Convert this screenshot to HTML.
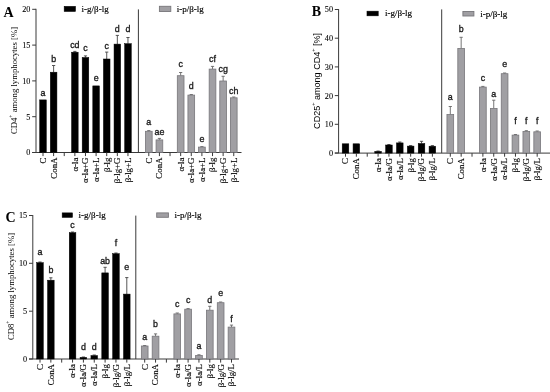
<!DOCTYPE html>
<html><head><meta charset="utf-8"><style>
html,body{margin:0;padding:0;background:#fff;}
body{width:550px;height:392px;overflow:hidden;}
svg{display:block;will-change:transform;}
</style></head><body>
<svg width="550" height="392" viewBox="0 0 550 392">
<rect width="550" height="392" fill="#fff"/>
<line x1="36.00" y1="8.80" x2="36.00" y2="152.50" stroke="#3a3a3a" stroke-width="1.0"/>
<line x1="32.20" y1="9.30" x2="36.00" y2="9.30" stroke="#3a3a3a" stroke-width="1.0"/>
<text x="30.40" y="12.20" font-family='"Liberation Serif", serif' font-size="8.2" text-anchor="end" font-weight="normal" fill="#000" stroke="#000" stroke-width="0.08">20</text>
<line x1="32.20" y1="45.10" x2="36.00" y2="45.10" stroke="#3a3a3a" stroke-width="1.0"/>
<text x="30.40" y="48.00" font-family='"Liberation Serif", serif' font-size="8.2" text-anchor="end" font-weight="normal" fill="#000" stroke="#000" stroke-width="0.08">15</text>
<line x1="32.20" y1="80.90" x2="36.00" y2="80.90" stroke="#3a3a3a" stroke-width="1.0"/>
<text x="30.40" y="83.80" font-family='"Liberation Serif", serif' font-size="8.2" text-anchor="end" font-weight="normal" fill="#000" stroke="#000" stroke-width="0.08">10</text>
<line x1="32.20" y1="116.70" x2="36.00" y2="116.70" stroke="#3a3a3a" stroke-width="1.0"/>
<text x="30.40" y="119.60" font-family='"Liberation Serif", serif' font-size="8.2" text-anchor="end" font-weight="normal" fill="#000" stroke="#000" stroke-width="0.08">5</text>
<line x1="32.20" y1="152.50" x2="36.00" y2="152.50" stroke="#3a3a3a" stroke-width="1.0"/>
<text x="30.40" y="155.40" font-family='"Liberation Serif", serif' font-size="8.2" text-anchor="end" font-weight="normal" fill="#000" stroke="#000" stroke-width="0.08">0</text>
<line x1="32.20" y1="152.50" x2="241.50" y2="152.50" stroke="#3a3a3a" stroke-width="1.0"/>
<line x1="138.40" y1="9.40" x2="138.40" y2="152.50" stroke="#3a3a3a" stroke-width="1.0"/>
<rect x="39.70" y="99.90" width="6.60" height="52.60" fill="#000" stroke="#000" stroke-width="0.5"/>
<text x="43.00" y="95.60" font-family='"Liberation Sans", sans-serif' font-size="8.9" text-anchor="middle" font-weight="normal" fill="#1a1a1a" stroke="#1a1a1a" stroke-width="0.32">a</text>
<line x1="53.62" y1="65.50" x2="53.62" y2="72.20" stroke="#444" stroke-width="0.9"/>
<line x1="52.02" y1="65.50" x2="55.22" y2="65.50" stroke="#444" stroke-width="0.9"/>
<rect x="50.32" y="72.20" width="6.60" height="80.30" fill="#000" stroke="#000" stroke-width="0.5"/>
<text x="53.62" y="62.30" font-family='"Liberation Sans", sans-serif' font-size="8.9" text-anchor="middle" font-weight="normal" fill="#1a1a1a" stroke="#1a1a1a" stroke-width="0.32">b</text>
<line x1="74.86" y1="51.40" x2="74.86" y2="52.20" stroke="#444" stroke-width="0.9"/>
<line x1="73.26" y1="51.40" x2="76.46" y2="51.40" stroke="#444" stroke-width="0.9"/>
<rect x="71.56" y="52.20" width="6.60" height="100.30" fill="#000" stroke="#000" stroke-width="0.5"/>
<text x="74.86" y="47.90" font-family='"Liberation Sans", sans-serif' font-size="8.9" text-anchor="middle" font-weight="normal" fill="#1a1a1a" stroke="#1a1a1a" stroke-width="0.32">cd</text>
<line x1="85.48" y1="55.90" x2="85.48" y2="57.50" stroke="#444" stroke-width="0.9"/>
<line x1="83.88" y1="55.90" x2="87.08" y2="55.90" stroke="#444" stroke-width="0.9"/>
<rect x="82.18" y="57.50" width="6.60" height="95.00" fill="#000" stroke="#000" stroke-width="0.5"/>
<text x="85.48" y="51.00" font-family='"Liberation Sans", sans-serif' font-size="8.9" text-anchor="middle" font-weight="normal" fill="#1a1a1a" stroke="#1a1a1a" stroke-width="0.32">c</text>
<rect x="92.80" y="85.90" width="6.60" height="66.60" fill="#000" stroke="#000" stroke-width="0.5"/>
<text x="96.10" y="80.60" font-family='"Liberation Sans", sans-serif' font-size="8.9" text-anchor="middle" font-weight="normal" fill="#1a1a1a" stroke="#1a1a1a" stroke-width="0.32">e</text>
<line x1="106.72" y1="52.10" x2="106.72" y2="59.00" stroke="#444" stroke-width="0.9"/>
<line x1="105.12" y1="52.10" x2="108.32" y2="52.10" stroke="#444" stroke-width="0.9"/>
<rect x="103.42" y="59.00" width="6.60" height="93.50" fill="#000" stroke="#000" stroke-width="0.5"/>
<text x="106.72" y="48.80" font-family='"Liberation Sans", sans-serif' font-size="8.9" text-anchor="middle" font-weight="normal" fill="#1a1a1a" stroke="#1a1a1a" stroke-width="0.32">c</text>
<line x1="117.34" y1="35.40" x2="117.34" y2="44.10" stroke="#444" stroke-width="0.9"/>
<line x1="115.74" y1="35.40" x2="118.94" y2="35.40" stroke="#444" stroke-width="0.9"/>
<rect x="114.04" y="44.10" width="6.60" height="108.40" fill="#000" stroke="#000" stroke-width="0.5"/>
<text x="117.34" y="32.20" font-family='"Liberation Sans", sans-serif' font-size="8.9" text-anchor="middle" font-weight="normal" fill="#1a1a1a" stroke="#1a1a1a" stroke-width="0.32">d</text>
<line x1="127.96" y1="37.50" x2="127.96" y2="43.70" stroke="#444" stroke-width="0.9"/>
<line x1="126.36" y1="37.50" x2="129.56" y2="37.50" stroke="#444" stroke-width="0.9"/>
<rect x="124.66" y="43.70" width="6.60" height="108.80" fill="#000" stroke="#000" stroke-width="0.5"/>
<text x="127.96" y="32.20" font-family='"Liberation Sans", sans-serif' font-size="8.9" text-anchor="middle" font-weight="normal" fill="#1a1a1a" stroke="#1a1a1a" stroke-width="0.32">d</text>
<line x1="148.80" y1="130.60" x2="148.80" y2="131.30" stroke="#666" stroke-width="0.9"/>
<line x1="147.20" y1="130.60" x2="150.40" y2="130.60" stroke="#666" stroke-width="0.9"/>
<rect x="145.45" y="131.30" width="6.70" height="21.20" fill="#a09fa3" stroke="#77767a" stroke-width="0.8"/>
<text x="148.80" y="124.60" font-family='"Liberation Sans", sans-serif' font-size="8.9" text-anchor="middle" font-weight="normal" fill="#1a1a1a" stroke="#1a1a1a" stroke-width="0.32">a</text>
<line x1="159.42" y1="138.40" x2="159.42" y2="139.90" stroke="#666" stroke-width="0.9"/>
<line x1="157.82" y1="138.40" x2="161.02" y2="138.40" stroke="#666" stroke-width="0.9"/>
<rect x="156.07" y="139.90" width="6.70" height="12.60" fill="#a09fa3" stroke="#77767a" stroke-width="0.8"/>
<text x="159.42" y="134.80" font-family='"Liberation Sans", sans-serif' font-size="8.9" text-anchor="middle" font-weight="normal" fill="#1a1a1a" stroke="#1a1a1a" stroke-width="0.32">ae</text>
<line x1="180.66" y1="72.50" x2="180.66" y2="75.70" stroke="#666" stroke-width="0.9"/>
<line x1="179.06" y1="72.50" x2="182.26" y2="72.50" stroke="#666" stroke-width="0.9"/>
<rect x="177.31" y="75.70" width="6.70" height="76.80" fill="#a09fa3" stroke="#77767a" stroke-width="0.8"/>
<text x="180.66" y="66.90" font-family='"Liberation Sans", sans-serif' font-size="8.9" text-anchor="middle" font-weight="normal" fill="#1a1a1a" stroke="#1a1a1a" stroke-width="0.32">c</text>
<line x1="191.28" y1="94.50" x2="191.28" y2="95.10" stroke="#666" stroke-width="0.9"/>
<line x1="189.68" y1="94.50" x2="192.88" y2="94.50" stroke="#666" stroke-width="0.9"/>
<rect x="187.93" y="95.10" width="6.70" height="57.40" fill="#a09fa3" stroke="#77767a" stroke-width="0.8"/>
<text x="191.28" y="89.40" font-family='"Liberation Sans", sans-serif' font-size="8.9" text-anchor="middle" font-weight="normal" fill="#1a1a1a" stroke="#1a1a1a" stroke-width="0.32">d</text>
<line x1="201.90" y1="146.60" x2="201.90" y2="147.10" stroke="#666" stroke-width="0.9"/>
<line x1="200.30" y1="146.60" x2="203.50" y2="146.60" stroke="#666" stroke-width="0.9"/>
<rect x="198.55" y="147.10" width="6.70" height="5.40" fill="#a09fa3" stroke="#77767a" stroke-width="0.8"/>
<text x="201.90" y="142.20" font-family='"Liberation Sans", sans-serif' font-size="8.9" text-anchor="middle" font-weight="normal" fill="#1a1a1a" stroke="#1a1a1a" stroke-width="0.32">e</text>
<line x1="212.52" y1="66.40" x2="212.52" y2="69.10" stroke="#666" stroke-width="0.9"/>
<line x1="210.92" y1="66.40" x2="214.12" y2="66.40" stroke="#666" stroke-width="0.9"/>
<rect x="209.17" y="69.10" width="6.70" height="83.40" fill="#a09fa3" stroke="#77767a" stroke-width="0.8"/>
<text x="212.52" y="61.50" font-family='"Liberation Sans", sans-serif' font-size="8.9" text-anchor="middle" font-weight="normal" fill="#1a1a1a" stroke="#1a1a1a" stroke-width="0.32">cf</text>
<line x1="223.14" y1="76.30" x2="223.14" y2="81.00" stroke="#666" stroke-width="0.9"/>
<line x1="221.54" y1="76.30" x2="224.74" y2="76.30" stroke="#666" stroke-width="0.9"/>
<rect x="219.79" y="81.00" width="6.70" height="71.50" fill="#a09fa3" stroke="#77767a" stroke-width="0.8"/>
<text x="223.14" y="71.70" font-family='"Liberation Sans", sans-serif' font-size="8.9" text-anchor="middle" font-weight="normal" fill="#1a1a1a" stroke="#1a1a1a" stroke-width="0.32">cg</text>
<line x1="233.76" y1="97.00" x2="233.76" y2="97.80" stroke="#666" stroke-width="0.9"/>
<line x1="232.16" y1="97.00" x2="235.36" y2="97.00" stroke="#666" stroke-width="0.9"/>
<rect x="230.41" y="97.80" width="6.70" height="54.70" fill="#a09fa3" stroke="#77767a" stroke-width="0.8"/>
<text x="233.76" y="93.50" font-family='"Liberation Sans", sans-serif' font-size="8.9" text-anchor="middle" font-weight="normal" fill="#1a1a1a" stroke="#1a1a1a" stroke-width="0.32">ch</text>
<line x1="43.00" y1="152.50" x2="43.00" y2="156.10" stroke="#3a3a3a" stroke-width="1.0"/>
<text x="45.90" y="157.50" font-family='"Liberation Serif", serif' font-size="8.9" text-anchor="end" font-weight="normal" fill="#000" transform="rotate(-90 45.90 157.50)" stroke="#000" stroke-width="0.14">C</text>
<line x1="53.62" y1="152.50" x2="53.62" y2="156.10" stroke="#3a3a3a" stroke-width="1.0"/>
<text x="56.52" y="157.50" font-family='"Liberation Serif", serif' font-size="8.9" text-anchor="end" font-weight="normal" fill="#000" transform="rotate(-90 56.52 157.50)" stroke="#000" stroke-width="0.14">ConA</text>
<line x1="64.24" y1="152.50" x2="64.24" y2="156.10" stroke="#3a3a3a" stroke-width="1.0"/>
<line x1="74.86" y1="152.50" x2="74.86" y2="156.10" stroke="#3a3a3a" stroke-width="1.0"/>
<text x="77.76" y="157.50" font-family='"Liberation Serif", serif' font-size="8.9" text-anchor="end" font-weight="normal" fill="#000" transform="rotate(-90 77.76 157.50)" stroke="#000" stroke-width="0.14">α-la</text>
<line x1="85.48" y1="152.50" x2="85.48" y2="156.10" stroke="#3a3a3a" stroke-width="1.0"/>
<text x="88.38" y="157.50" font-family='"Liberation Serif", serif' font-size="8.9" text-anchor="end" font-weight="normal" fill="#000" transform="rotate(-90 88.38 157.50)" stroke="#000" stroke-width="0.14">α-la+G</text>
<line x1="96.10" y1="152.50" x2="96.10" y2="156.10" stroke="#3a3a3a" stroke-width="1.0"/>
<text x="99.00" y="157.50" font-family='"Liberation Serif", serif' font-size="8.9" text-anchor="end" font-weight="normal" fill="#000" transform="rotate(-90 99.00 157.50)" stroke="#000" stroke-width="0.14">α-la+L</text>
<line x1="106.72" y1="152.50" x2="106.72" y2="156.10" stroke="#3a3a3a" stroke-width="1.0"/>
<text x="109.62" y="157.50" font-family='"Liberation Serif", serif' font-size="8.9" text-anchor="end" font-weight="normal" fill="#000" transform="rotate(-90 109.62 157.50)" stroke="#000" stroke-width="0.14">β-lg</text>
<line x1="117.34" y1="152.50" x2="117.34" y2="156.10" stroke="#3a3a3a" stroke-width="1.0"/>
<text x="120.24" y="157.50" font-family='"Liberation Serif", serif' font-size="8.9" text-anchor="end" font-weight="normal" fill="#000" transform="rotate(-90 120.24 157.50)" stroke="#000" stroke-width="0.14">β-lg+G</text>
<line x1="127.96" y1="152.50" x2="127.96" y2="156.10" stroke="#3a3a3a" stroke-width="1.0"/>
<text x="130.86" y="157.50" font-family='"Liberation Serif", serif' font-size="8.9" text-anchor="end" font-weight="normal" fill="#000" transform="rotate(-90 130.86 157.50)" stroke="#000" stroke-width="0.14">β-lg+L</text>
<line x1="148.80" y1="152.50" x2="148.80" y2="156.10" stroke="#3a3a3a" stroke-width="1.0"/>
<text x="151.70" y="157.50" font-family='"Liberation Serif", serif' font-size="8.9" text-anchor="end" font-weight="normal" fill="#000" transform="rotate(-90 151.70 157.50)" stroke="#000" stroke-width="0.14">C</text>
<line x1="159.42" y1="152.50" x2="159.42" y2="156.10" stroke="#3a3a3a" stroke-width="1.0"/>
<text x="162.32" y="157.50" font-family='"Liberation Serif", serif' font-size="8.9" text-anchor="end" font-weight="normal" fill="#000" transform="rotate(-90 162.32 157.50)" stroke="#000" stroke-width="0.14">ConA</text>
<line x1="170.04" y1="152.50" x2="170.04" y2="156.10" stroke="#3a3a3a" stroke-width="1.0"/>
<line x1="180.66" y1="152.50" x2="180.66" y2="156.10" stroke="#3a3a3a" stroke-width="1.0"/>
<text x="183.56" y="157.50" font-family='"Liberation Serif", serif' font-size="8.9" text-anchor="end" font-weight="normal" fill="#000" transform="rotate(-90 183.56 157.50)" stroke="#000" stroke-width="0.14">α-la</text>
<line x1="191.28" y1="152.50" x2="191.28" y2="156.10" stroke="#3a3a3a" stroke-width="1.0"/>
<text x="194.18" y="157.50" font-family='"Liberation Serif", serif' font-size="8.9" text-anchor="end" font-weight="normal" fill="#000" transform="rotate(-90 194.18 157.50)" stroke="#000" stroke-width="0.14">α-la+G</text>
<line x1="201.90" y1="152.50" x2="201.90" y2="156.10" stroke="#3a3a3a" stroke-width="1.0"/>
<text x="204.80" y="157.50" font-family='"Liberation Serif", serif' font-size="8.9" text-anchor="end" font-weight="normal" fill="#000" transform="rotate(-90 204.80 157.50)" stroke="#000" stroke-width="0.14">α-la+L</text>
<line x1="212.52" y1="152.50" x2="212.52" y2="156.10" stroke="#3a3a3a" stroke-width="1.0"/>
<text x="215.42" y="157.50" font-family='"Liberation Serif", serif' font-size="8.9" text-anchor="end" font-weight="normal" fill="#000" transform="rotate(-90 215.42 157.50)" stroke="#000" stroke-width="0.14">β-lg</text>
<line x1="223.14" y1="152.50" x2="223.14" y2="156.10" stroke="#3a3a3a" stroke-width="1.0"/>
<text x="226.04" y="157.50" font-family='"Liberation Serif", serif' font-size="8.9" text-anchor="end" font-weight="normal" fill="#000" transform="rotate(-90 226.04 157.50)" stroke="#000" stroke-width="0.14">β-lg+G</text>
<line x1="233.76" y1="152.50" x2="233.76" y2="156.10" stroke="#3a3a3a" stroke-width="1.0"/>
<text x="236.66" y="157.50" font-family='"Liberation Serif", serif' font-size="8.9" text-anchor="end" font-weight="normal" fill="#000" transform="rotate(-90 236.66 157.50)" stroke="#000" stroke-width="0.14">β-lg+L</text>
<rect x="64.2" y="6.4" width="11.2" height="5.0" fill="#000" stroke="#000" stroke-width="0.6"/>
<text x="81.60" y="11.80" font-family='"Liberation Serif", serif' font-size="9.0" text-anchor="start" font-weight="normal" fill="#000" stroke="#000" stroke-width="0.15">i-g/β-lg</text>
<rect x="159.4" y="6.3" width="11.4" height="5.2" fill="#a09fa3" stroke="#77767a" stroke-width="0.9"/>
<text x="176.80" y="11.80" font-family='"Liberation Serif", serif' font-size="9.0" text-anchor="start" font-weight="normal" fill="#000" stroke="#000" stroke-width="0.15">i-p/β-lg</text>
<text x="3.60" y="17.30" font-family='"Liberation Serif", serif' font-size="14" text-anchor="start" font-weight="bold" fill="#000">A</text>
<text x="17.00" y="80.50" font-family='"Liberation Serif", serif' font-size="8.7" text-anchor="middle" font-weight="normal" fill="#000" transform="rotate(-90 17.00 80.50)">CD4<tspan baseline-shift="4.3" font-size="5.5">+</tspan> among lymphocytes [%]</text>
<line x1="338.60" y1="9.00" x2="338.60" y2="153.10" stroke="#3a3a3a" stroke-width="1.0"/>
<line x1="334.80" y1="9.50" x2="338.60" y2="9.50" stroke="#3a3a3a" stroke-width="1.0"/>
<text x="333.00" y="12.40" font-family='"Liberation Serif", serif' font-size="8.2" text-anchor="end" font-weight="normal" fill="#000" stroke="#000" stroke-width="0.08">50</text>
<line x1="334.80" y1="38.20" x2="338.60" y2="38.20" stroke="#3a3a3a" stroke-width="1.0"/>
<text x="333.00" y="41.10" font-family='"Liberation Serif", serif' font-size="8.2" text-anchor="end" font-weight="normal" fill="#000" stroke="#000" stroke-width="0.08">40</text>
<line x1="334.80" y1="66.90" x2="338.60" y2="66.90" stroke="#3a3a3a" stroke-width="1.0"/>
<text x="333.00" y="69.80" font-family='"Liberation Serif", serif' font-size="8.2" text-anchor="end" font-weight="normal" fill="#000" stroke="#000" stroke-width="0.08">30</text>
<line x1="334.80" y1="95.60" x2="338.60" y2="95.60" stroke="#3a3a3a" stroke-width="1.0"/>
<text x="333.00" y="98.50" font-family='"Liberation Serif", serif' font-size="8.2" text-anchor="end" font-weight="normal" fill="#000" stroke="#000" stroke-width="0.08">20</text>
<line x1="334.80" y1="124.30" x2="338.60" y2="124.30" stroke="#3a3a3a" stroke-width="1.0"/>
<text x="333.00" y="127.20" font-family='"Liberation Serif", serif' font-size="8.2" text-anchor="end" font-weight="normal" fill="#000" stroke="#000" stroke-width="0.08">10</text>
<line x1="334.80" y1="153.00" x2="338.60" y2="153.00" stroke="#3a3a3a" stroke-width="1.0"/>
<text x="333.00" y="155.90" font-family='"Liberation Serif", serif' font-size="8.2" text-anchor="end" font-weight="normal" fill="#000" stroke="#000" stroke-width="0.08">0</text>
<line x1="334.80" y1="153.10" x2="550.00" y2="153.10" stroke="#3a3a3a" stroke-width="1.0"/>
<line x1="441.70" y1="9.40" x2="441.70" y2="153.10" stroke="#3a3a3a" stroke-width="1.0"/>
<rect x="342.20" y="143.80" width="6.60" height="9.30" fill="#000" stroke="#000" stroke-width="0.5"/>
<rect x="353.06" y="143.80" width="6.60" height="9.30" fill="#000" stroke="#000" stroke-width="0.5"/>
<line x1="378.08" y1="151.00" x2="378.08" y2="151.40" stroke="#444" stroke-width="0.9"/>
<line x1="376.48" y1="151.00" x2="379.68" y2="151.00" stroke="#444" stroke-width="0.9"/>
<rect x="374.78" y="151.40" width="6.60" height="1.70" fill="#000" stroke="#000" stroke-width="0.5"/>
<line x1="388.94" y1="144.50" x2="388.94" y2="145.00" stroke="#444" stroke-width="0.9"/>
<line x1="387.34" y1="144.50" x2="390.54" y2="144.50" stroke="#444" stroke-width="0.9"/>
<rect x="385.64" y="145.00" width="6.60" height="8.10" fill="#000" stroke="#000" stroke-width="0.5"/>
<line x1="399.80" y1="142.00" x2="399.80" y2="142.90" stroke="#444" stroke-width="0.9"/>
<line x1="398.20" y1="142.00" x2="401.40" y2="142.00" stroke="#444" stroke-width="0.9"/>
<rect x="396.50" y="142.90" width="6.60" height="10.20" fill="#000" stroke="#000" stroke-width="0.5"/>
<line x1="410.66" y1="145.60" x2="410.66" y2="146.10" stroke="#444" stroke-width="0.9"/>
<line x1="409.06" y1="145.60" x2="412.26" y2="145.60" stroke="#444" stroke-width="0.9"/>
<rect x="407.36" y="146.10" width="6.60" height="7.00" fill="#000" stroke="#000" stroke-width="0.5"/>
<line x1="421.52" y1="141.30" x2="421.52" y2="143.50" stroke="#444" stroke-width="0.9"/>
<line x1="419.92" y1="141.30" x2="423.12" y2="141.30" stroke="#444" stroke-width="0.9"/>
<rect x="418.22" y="143.50" width="6.60" height="9.60" fill="#000" stroke="#000" stroke-width="0.5"/>
<line x1="432.38" y1="145.60" x2="432.38" y2="146.20" stroke="#444" stroke-width="0.9"/>
<line x1="430.78" y1="145.60" x2="433.98" y2="145.60" stroke="#444" stroke-width="0.9"/>
<rect x="429.08" y="146.20" width="6.60" height="6.90" fill="#000" stroke="#000" stroke-width="0.5"/>
<line x1="450.30" y1="106.50" x2="450.30" y2="114.50" stroke="#666" stroke-width="0.9"/>
<line x1="448.70" y1="106.50" x2="451.90" y2="106.50" stroke="#666" stroke-width="0.9"/>
<rect x="446.95" y="114.50" width="6.70" height="38.60" fill="#a09fa3" stroke="#77767a" stroke-width="0.8"/>
<text x="450.30" y="99.50" font-family='"Liberation Sans", sans-serif' font-size="8.9" text-anchor="middle" font-weight="normal" fill="#1a1a1a" stroke="#1a1a1a" stroke-width="0.32">a</text>
<line x1="461.16" y1="37.30" x2="461.16" y2="48.40" stroke="#666" stroke-width="0.9"/>
<line x1="459.56" y1="37.30" x2="462.76" y2="37.30" stroke="#666" stroke-width="0.9"/>
<rect x="457.81" y="48.40" width="6.70" height="104.70" fill="#a09fa3" stroke="#77767a" stroke-width="0.8"/>
<text x="461.16" y="31.50" font-family='"Liberation Sans", sans-serif' font-size="8.9" text-anchor="middle" font-weight="normal" fill="#1a1a1a" stroke="#1a1a1a" stroke-width="0.32">b</text>
<line x1="482.88" y1="86.40" x2="482.88" y2="87.10" stroke="#666" stroke-width="0.9"/>
<line x1="481.28" y1="86.40" x2="484.48" y2="86.40" stroke="#666" stroke-width="0.9"/>
<rect x="479.53" y="87.10" width="6.70" height="66.00" fill="#a09fa3" stroke="#77767a" stroke-width="0.8"/>
<text x="482.88" y="80.80" font-family='"Liberation Sans", sans-serif' font-size="8.9" text-anchor="middle" font-weight="normal" fill="#1a1a1a" stroke="#1a1a1a" stroke-width="0.32">c</text>
<line x1="493.74" y1="100.20" x2="493.74" y2="108.40" stroke="#666" stroke-width="0.9"/>
<line x1="492.14" y1="100.20" x2="495.34" y2="100.20" stroke="#666" stroke-width="0.9"/>
<rect x="490.39" y="108.40" width="6.70" height="44.70" fill="#a09fa3" stroke="#77767a" stroke-width="0.8"/>
<text x="493.74" y="96.50" font-family='"Liberation Sans", sans-serif' font-size="8.9" text-anchor="middle" font-weight="normal" fill="#1a1a1a" stroke="#1a1a1a" stroke-width="0.32">a</text>
<line x1="504.60" y1="73.00" x2="504.60" y2="73.70" stroke="#666" stroke-width="0.9"/>
<line x1="503.00" y1="73.00" x2="506.20" y2="73.00" stroke="#666" stroke-width="0.9"/>
<rect x="501.25" y="73.70" width="6.70" height="79.40" fill="#a09fa3" stroke="#77767a" stroke-width="0.8"/>
<text x="504.60" y="66.90" font-family='"Liberation Sans", sans-serif' font-size="8.9" text-anchor="middle" font-weight="normal" fill="#1a1a1a" stroke="#1a1a1a" stroke-width="0.32">e</text>
<line x1="515.46" y1="134.50" x2="515.46" y2="135.10" stroke="#666" stroke-width="0.9"/>
<line x1="513.86" y1="134.50" x2="517.06" y2="134.50" stroke="#666" stroke-width="0.9"/>
<rect x="512.11" y="135.10" width="6.70" height="18.00" fill="#a09fa3" stroke="#77767a" stroke-width="0.8"/>
<text x="515.46" y="123.90" font-family='"Liberation Sans", sans-serif' font-size="8.9" text-anchor="middle" font-weight="normal" fill="#1a1a1a" stroke="#1a1a1a" stroke-width="0.32">f</text>
<line x1="526.32" y1="130.70" x2="526.32" y2="131.40" stroke="#666" stroke-width="0.9"/>
<line x1="524.72" y1="130.70" x2="527.92" y2="130.70" stroke="#666" stroke-width="0.9"/>
<rect x="522.97" y="131.40" width="6.70" height="21.70" fill="#a09fa3" stroke="#77767a" stroke-width="0.8"/>
<text x="526.32" y="123.90" font-family='"Liberation Sans", sans-serif' font-size="8.9" text-anchor="middle" font-weight="normal" fill="#1a1a1a" stroke="#1a1a1a" stroke-width="0.32">f</text>
<line x1="537.18" y1="131.00" x2="537.18" y2="131.80" stroke="#666" stroke-width="0.9"/>
<line x1="535.58" y1="131.00" x2="538.78" y2="131.00" stroke="#666" stroke-width="0.9"/>
<rect x="533.83" y="131.80" width="6.70" height="21.30" fill="#a09fa3" stroke="#77767a" stroke-width="0.8"/>
<text x="537.18" y="123.90" font-family='"Liberation Sans", sans-serif' font-size="8.9" text-anchor="middle" font-weight="normal" fill="#1a1a1a" stroke="#1a1a1a" stroke-width="0.32">f</text>
<line x1="345.50" y1="153.10" x2="345.50" y2="156.70" stroke="#3a3a3a" stroke-width="1.0"/>
<text x="348.40" y="158.10" font-family='"Liberation Serif", serif' font-size="8.9" text-anchor="end" font-weight="normal" fill="#000" transform="rotate(-90 348.40 158.10)" stroke="#000" stroke-width="0.14">C</text>
<line x1="356.36" y1="153.10" x2="356.36" y2="156.70" stroke="#3a3a3a" stroke-width="1.0"/>
<text x="359.26" y="158.10" font-family='"Liberation Serif", serif' font-size="8.9" text-anchor="end" font-weight="normal" fill="#000" transform="rotate(-90 359.26 158.10)" stroke="#000" stroke-width="0.14">ConA</text>
<line x1="367.22" y1="153.10" x2="367.22" y2="156.70" stroke="#3a3a3a" stroke-width="1.0"/>
<line x1="378.08" y1="153.10" x2="378.08" y2="156.70" stroke="#3a3a3a" stroke-width="1.0"/>
<text x="380.98" y="158.10" font-family='"Liberation Serif", serif' font-size="8.9" text-anchor="end" font-weight="normal" fill="#000" transform="rotate(-90 380.98 158.10)" stroke="#000" stroke-width="0.14">α-la</text>
<line x1="388.94" y1="153.10" x2="388.94" y2="156.70" stroke="#3a3a3a" stroke-width="1.0"/>
<text x="391.84" y="158.10" font-family='"Liberation Serif", serif' font-size="8.9" text-anchor="end" font-weight="normal" fill="#000" transform="rotate(-90 391.84 158.10)" stroke="#000" stroke-width="0.14">α-la/G</text>
<line x1="399.80" y1="153.10" x2="399.80" y2="156.70" stroke="#3a3a3a" stroke-width="1.0"/>
<text x="402.70" y="158.10" font-family='"Liberation Serif", serif' font-size="8.9" text-anchor="end" font-weight="normal" fill="#000" transform="rotate(-90 402.70 158.10)" stroke="#000" stroke-width="0.14">α-la/L</text>
<line x1="410.66" y1="153.10" x2="410.66" y2="156.70" stroke="#3a3a3a" stroke-width="1.0"/>
<text x="413.56" y="158.10" font-family='"Liberation Serif", serif' font-size="8.9" text-anchor="end" font-weight="normal" fill="#000" transform="rotate(-90 413.56 158.10)" stroke="#000" stroke-width="0.14">β-lg</text>
<line x1="421.52" y1="153.10" x2="421.52" y2="156.70" stroke="#3a3a3a" stroke-width="1.0"/>
<text x="424.42" y="158.10" font-family='"Liberation Serif", serif' font-size="8.9" text-anchor="end" font-weight="normal" fill="#000" transform="rotate(-90 424.42 158.10)" stroke="#000" stroke-width="0.14">β-lg/G</text>
<line x1="432.38" y1="153.10" x2="432.38" y2="156.70" stroke="#3a3a3a" stroke-width="1.0"/>
<text x="435.28" y="158.10" font-family='"Liberation Serif", serif' font-size="8.9" text-anchor="end" font-weight="normal" fill="#000" transform="rotate(-90 435.28 158.10)" stroke="#000" stroke-width="0.14">β-lg/L</text>
<line x1="450.30" y1="153.10" x2="450.30" y2="156.70" stroke="#3a3a3a" stroke-width="1.0"/>
<text x="453.20" y="158.10" font-family='"Liberation Serif", serif' font-size="8.9" text-anchor="end" font-weight="normal" fill="#000" transform="rotate(-90 453.20 158.10)" stroke="#000" stroke-width="0.14">C</text>
<line x1="461.16" y1="153.10" x2="461.16" y2="156.70" stroke="#3a3a3a" stroke-width="1.0"/>
<text x="464.06" y="158.10" font-family='"Liberation Serif", serif' font-size="8.9" text-anchor="end" font-weight="normal" fill="#000" transform="rotate(-90 464.06 158.10)" stroke="#000" stroke-width="0.14">ConA</text>
<line x1="472.02" y1="153.10" x2="472.02" y2="156.70" stroke="#3a3a3a" stroke-width="1.0"/>
<line x1="482.88" y1="153.10" x2="482.88" y2="156.70" stroke="#3a3a3a" stroke-width="1.0"/>
<text x="485.78" y="158.10" font-family='"Liberation Serif", serif' font-size="8.9" text-anchor="end" font-weight="normal" fill="#000" transform="rotate(-90 485.78 158.10)" stroke="#000" stroke-width="0.14">α-la</text>
<line x1="493.74" y1="153.10" x2="493.74" y2="156.70" stroke="#3a3a3a" stroke-width="1.0"/>
<text x="496.64" y="158.10" font-family='"Liberation Serif", serif' font-size="8.9" text-anchor="end" font-weight="normal" fill="#000" transform="rotate(-90 496.64 158.10)" stroke="#000" stroke-width="0.14">α-la/G</text>
<line x1="504.60" y1="153.10" x2="504.60" y2="156.70" stroke="#3a3a3a" stroke-width="1.0"/>
<text x="507.50" y="158.10" font-family='"Liberation Serif", serif' font-size="8.9" text-anchor="end" font-weight="normal" fill="#000" transform="rotate(-90 507.50 158.10)" stroke="#000" stroke-width="0.14">α-la/L</text>
<line x1="515.46" y1="153.10" x2="515.46" y2="156.70" stroke="#3a3a3a" stroke-width="1.0"/>
<text x="518.36" y="158.10" font-family='"Liberation Serif", serif' font-size="8.9" text-anchor="end" font-weight="normal" fill="#000" transform="rotate(-90 518.36 158.10)" stroke="#000" stroke-width="0.14">β-lg</text>
<line x1="526.32" y1="153.10" x2="526.32" y2="156.70" stroke="#3a3a3a" stroke-width="1.0"/>
<text x="529.22" y="158.10" font-family='"Liberation Serif", serif' font-size="8.9" text-anchor="end" font-weight="normal" fill="#000" transform="rotate(-90 529.22 158.10)" stroke="#000" stroke-width="0.14">β-lg/G</text>
<line x1="537.18" y1="153.10" x2="537.18" y2="156.70" stroke="#3a3a3a" stroke-width="1.0"/>
<text x="540.08" y="158.10" font-family='"Liberation Serif", serif' font-size="8.9" text-anchor="end" font-weight="normal" fill="#000" transform="rotate(-90 540.08 158.10)" stroke="#000" stroke-width="0.14">β-lg/L</text>
<rect x="367.0" y="11.2" width="11.2" height="4.6" fill="#000" stroke="#000" stroke-width="0.6"/>
<text x="385.00" y="16.40" font-family='"Liberation Serif", serif' font-size="9.0" text-anchor="start" font-weight="normal" fill="#000" stroke="#000" stroke-width="0.15">i-g/β-lg</text>
<rect x="462.9" y="11.5" width="11.0" height="4.5" fill="#a09fa3" stroke="#77767a" stroke-width="0.9"/>
<text x="480.20" y="16.65" font-family='"Liberation Serif", serif' font-size="9.0" text-anchor="start" font-weight="normal" fill="#000" stroke="#000" stroke-width="0.15">i-p/β-lg</text>
<text x="311.80" y="16.40" font-family='"Liberation Serif", serif' font-size="14" text-anchor="start" font-weight="bold" fill="#000">B</text>
<text x="320.50" y="80.90" font-family='"Liberation Sans", sans-serif' font-size="9.05" text-anchor="middle" font-weight="normal" fill="#000" transform="rotate(-90 320.50 80.90)">CD25<tspan baseline-shift="5.2" font-size="5.5">+</tspan> among CD4<tspan baseline-shift="5.2" font-size="5.5">+</tspan> [%]</text>
<line x1="32.80" y1="215.00" x2="32.80" y2="359.00" stroke="#3a3a3a" stroke-width="1.0"/>
<line x1="29.00" y1="215.50" x2="32.80" y2="215.50" stroke="#3a3a3a" stroke-width="1.0"/>
<text x="27.20" y="218.40" font-family='"Liberation Serif", serif' font-size="8.2" text-anchor="end" font-weight="normal" fill="#000" stroke="#000" stroke-width="0.08">15</text>
<line x1="29.00" y1="263.30" x2="32.80" y2="263.30" stroke="#3a3a3a" stroke-width="1.0"/>
<text x="27.20" y="266.20" font-family='"Liberation Serif", serif' font-size="8.2" text-anchor="end" font-weight="normal" fill="#000" stroke="#000" stroke-width="0.08">10</text>
<line x1="29.00" y1="311.20" x2="32.80" y2="311.20" stroke="#3a3a3a" stroke-width="1.0"/>
<text x="27.20" y="314.10" font-family='"Liberation Serif", serif' font-size="8.2" text-anchor="end" font-weight="normal" fill="#000" stroke="#000" stroke-width="0.08">5</text>
<line x1="29.00" y1="359.00" x2="32.80" y2="359.00" stroke="#3a3a3a" stroke-width="1.0"/>
<text x="27.20" y="361.90" font-family='"Liberation Serif", serif' font-size="8.2" text-anchor="end" font-weight="normal" fill="#000" stroke="#000" stroke-width="0.08">0</text>
<line x1="29.00" y1="359.00" x2="239.00" y2="359.00" stroke="#3a3a3a" stroke-width="1.0"/>
<line x1="135.80" y1="215.60" x2="135.80" y2="359.00" stroke="#3a3a3a" stroke-width="1.0"/>
<line x1="40.00" y1="262.00" x2="40.00" y2="262.70" stroke="#444" stroke-width="0.9"/>
<line x1="38.40" y1="262.00" x2="41.60" y2="262.00" stroke="#444" stroke-width="0.9"/>
<rect x="36.70" y="262.70" width="6.60" height="96.30" fill="#000" stroke="#000" stroke-width="0.5"/>
<text x="40.00" y="255.10" font-family='"Liberation Sans", sans-serif' font-size="8.9" text-anchor="middle" font-weight="normal" fill="#1a1a1a" stroke="#1a1a1a" stroke-width="0.32">a</text>
<line x1="50.85" y1="277.80" x2="50.85" y2="280.20" stroke="#444" stroke-width="0.9"/>
<line x1="49.25" y1="277.80" x2="52.45" y2="277.80" stroke="#444" stroke-width="0.9"/>
<rect x="47.55" y="280.20" width="6.60" height="78.80" fill="#000" stroke="#000" stroke-width="0.5"/>
<text x="50.85" y="272.70" font-family='"Liberation Sans", sans-serif' font-size="8.9" text-anchor="middle" font-weight="normal" fill="#1a1a1a" stroke="#1a1a1a" stroke-width="0.32">b</text>
<line x1="72.55" y1="232.00" x2="72.55" y2="232.70" stroke="#444" stroke-width="0.9"/>
<line x1="70.95" y1="232.00" x2="74.15" y2="232.00" stroke="#444" stroke-width="0.9"/>
<rect x="69.25" y="232.70" width="6.60" height="126.30" fill="#000" stroke="#000" stroke-width="0.5"/>
<text x="72.55" y="227.90" font-family='"Liberation Sans", sans-serif' font-size="8.9" text-anchor="middle" font-weight="normal" fill="#1a1a1a" stroke="#1a1a1a" stroke-width="0.32">c</text>
<line x1="83.40" y1="357.00" x2="83.40" y2="357.40" stroke="#444" stroke-width="0.9"/>
<line x1="81.80" y1="357.00" x2="85.00" y2="357.00" stroke="#444" stroke-width="0.9"/>
<rect x="80.10" y="357.40" width="6.60" height="1.60" fill="#000" stroke="#000" stroke-width="0.5"/>
<text x="83.40" y="350.30" font-family='"Liberation Sans", sans-serif' font-size="8.9" text-anchor="middle" font-weight="normal" fill="#1a1a1a" stroke="#1a1a1a" stroke-width="0.32">d</text>
<line x1="94.25" y1="355.00" x2="94.25" y2="355.60" stroke="#444" stroke-width="0.9"/>
<line x1="92.65" y1="355.00" x2="95.85" y2="355.00" stroke="#444" stroke-width="0.9"/>
<rect x="90.95" y="355.60" width="6.60" height="3.40" fill="#000" stroke="#000" stroke-width="0.5"/>
<text x="94.25" y="350.30" font-family='"Liberation Sans", sans-serif' font-size="8.9" text-anchor="middle" font-weight="normal" fill="#1a1a1a" stroke="#1a1a1a" stroke-width="0.32">d</text>
<line x1="105.10" y1="267.30" x2="105.10" y2="272.90" stroke="#444" stroke-width="0.9"/>
<line x1="103.50" y1="267.30" x2="106.70" y2="267.30" stroke="#444" stroke-width="0.9"/>
<rect x="101.80" y="272.90" width="6.60" height="86.10" fill="#000" stroke="#000" stroke-width="0.5"/>
<text x="105.10" y="263.50" font-family='"Liberation Sans", sans-serif' font-size="8.9" text-anchor="middle" font-weight="normal" fill="#1a1a1a" stroke="#1a1a1a" stroke-width="0.32">ab</text>
<line x1="115.95" y1="253.00" x2="115.95" y2="253.70" stroke="#444" stroke-width="0.9"/>
<line x1="114.35" y1="253.00" x2="117.55" y2="253.00" stroke="#444" stroke-width="0.9"/>
<rect x="112.65" y="253.70" width="6.60" height="105.30" fill="#000" stroke="#000" stroke-width="0.5"/>
<text x="115.95" y="245.50" font-family='"Liberation Sans", sans-serif' font-size="8.9" text-anchor="middle" font-weight="normal" fill="#1a1a1a" stroke="#1a1a1a" stroke-width="0.32">f</text>
<line x1="126.80" y1="277.60" x2="126.80" y2="294.10" stroke="#444" stroke-width="0.9"/>
<line x1="125.20" y1="277.60" x2="128.40" y2="277.60" stroke="#444" stroke-width="0.9"/>
<rect x="123.50" y="294.10" width="6.60" height="64.90" fill="#000" stroke="#000" stroke-width="0.5"/>
<text x="126.80" y="270.30" font-family='"Liberation Sans", sans-serif' font-size="8.9" text-anchor="middle" font-weight="normal" fill="#1a1a1a" stroke="#1a1a1a" stroke-width="0.32">e</text>
<line x1="144.70" y1="345.50" x2="144.70" y2="346.00" stroke="#666" stroke-width="0.9"/>
<line x1="143.10" y1="345.50" x2="146.30" y2="345.50" stroke="#666" stroke-width="0.9"/>
<rect x="141.35" y="346.00" width="6.70" height="13.00" fill="#a09fa3" stroke="#77767a" stroke-width="0.8"/>
<text x="144.70" y="339.70" font-family='"Liberation Sans", sans-serif' font-size="8.9" text-anchor="middle" font-weight="normal" fill="#1a1a1a" stroke="#1a1a1a" stroke-width="0.32">a</text>
<line x1="155.55" y1="333.90" x2="155.55" y2="336.20" stroke="#666" stroke-width="0.9"/>
<line x1="153.95" y1="333.90" x2="157.15" y2="333.90" stroke="#666" stroke-width="0.9"/>
<rect x="152.20" y="336.20" width="6.70" height="22.80" fill="#a09fa3" stroke="#77767a" stroke-width="0.8"/>
<text x="155.55" y="327.40" font-family='"Liberation Sans", sans-serif' font-size="8.9" text-anchor="middle" font-weight="normal" fill="#1a1a1a" stroke="#1a1a1a" stroke-width="0.32">b</text>
<line x1="177.25" y1="313.00" x2="177.25" y2="313.90" stroke="#666" stroke-width="0.9"/>
<line x1="175.65" y1="313.00" x2="178.85" y2="313.00" stroke="#666" stroke-width="0.9"/>
<rect x="173.90" y="313.90" width="6.70" height="45.10" fill="#a09fa3" stroke="#77767a" stroke-width="0.8"/>
<text x="177.25" y="306.70" font-family='"Liberation Sans", sans-serif' font-size="8.9" text-anchor="middle" font-weight="normal" fill="#1a1a1a" stroke="#1a1a1a" stroke-width="0.32">c</text>
<line x1="188.10" y1="308.60" x2="188.10" y2="309.20" stroke="#666" stroke-width="0.9"/>
<line x1="186.50" y1="308.60" x2="189.70" y2="308.60" stroke="#666" stroke-width="0.9"/>
<rect x="184.75" y="309.20" width="6.70" height="49.80" fill="#a09fa3" stroke="#77767a" stroke-width="0.8"/>
<text x="188.10" y="302.60" font-family='"Liberation Sans", sans-serif' font-size="8.9" text-anchor="middle" font-weight="normal" fill="#1a1a1a" stroke="#1a1a1a" stroke-width="0.32">c</text>
<line x1="198.95" y1="354.80" x2="198.95" y2="355.40" stroke="#666" stroke-width="0.9"/>
<line x1="197.35" y1="354.80" x2="200.55" y2="354.80" stroke="#666" stroke-width="0.9"/>
<rect x="195.60" y="355.40" width="6.70" height="3.60" fill="#a09fa3" stroke="#77767a" stroke-width="0.8"/>
<text x="198.95" y="349.40" font-family='"Liberation Sans", sans-serif' font-size="8.9" text-anchor="middle" font-weight="normal" fill="#1a1a1a" stroke="#1a1a1a" stroke-width="0.32">a</text>
<line x1="209.80" y1="306.30" x2="209.80" y2="310.20" stroke="#666" stroke-width="0.9"/>
<line x1="208.20" y1="306.30" x2="211.40" y2="306.30" stroke="#666" stroke-width="0.9"/>
<rect x="206.45" y="310.20" width="6.70" height="48.80" fill="#a09fa3" stroke="#77767a" stroke-width="0.8"/>
<text x="209.80" y="302.90" font-family='"Liberation Sans", sans-serif' font-size="8.9" text-anchor="middle" font-weight="normal" fill="#1a1a1a" stroke="#1a1a1a" stroke-width="0.32">d</text>
<line x1="220.65" y1="302.00" x2="220.65" y2="302.70" stroke="#666" stroke-width="0.9"/>
<line x1="219.05" y1="302.00" x2="222.25" y2="302.00" stroke="#666" stroke-width="0.9"/>
<rect x="217.30" y="302.70" width="6.70" height="56.30" fill="#a09fa3" stroke="#77767a" stroke-width="0.8"/>
<text x="220.65" y="295.50" font-family='"Liberation Sans", sans-serif' font-size="8.9" text-anchor="middle" font-weight="normal" fill="#1a1a1a" stroke="#1a1a1a" stroke-width="0.32">e</text>
<line x1="231.50" y1="325.10" x2="231.50" y2="327.10" stroke="#666" stroke-width="0.9"/>
<line x1="229.90" y1="325.10" x2="233.10" y2="325.10" stroke="#666" stroke-width="0.9"/>
<rect x="228.15" y="327.10" width="6.70" height="31.90" fill="#a09fa3" stroke="#77767a" stroke-width="0.8"/>
<text x="231.50" y="321.90" font-family='"Liberation Sans", sans-serif' font-size="8.9" text-anchor="middle" font-weight="normal" fill="#1a1a1a" stroke="#1a1a1a" stroke-width="0.32">f</text>
<line x1="40.00" y1="359.00" x2="40.00" y2="362.60" stroke="#3a3a3a" stroke-width="1.0"/>
<text x="42.90" y="364.00" font-family='"Liberation Serif", serif' font-size="8.9" text-anchor="end" font-weight="normal" fill="#000" transform="rotate(-90 42.90 364.00)" stroke="#000" stroke-width="0.14">C</text>
<line x1="50.85" y1="359.00" x2="50.85" y2="362.60" stroke="#3a3a3a" stroke-width="1.0"/>
<text x="53.75" y="364.00" font-family='"Liberation Serif", serif' font-size="8.9" text-anchor="end" font-weight="normal" fill="#000" transform="rotate(-90 53.75 364.00)" stroke="#000" stroke-width="0.14">ConA</text>
<line x1="61.70" y1="359.00" x2="61.70" y2="362.60" stroke="#3a3a3a" stroke-width="1.0"/>
<line x1="72.55" y1="359.00" x2="72.55" y2="362.60" stroke="#3a3a3a" stroke-width="1.0"/>
<text x="75.45" y="364.00" font-family='"Liberation Serif", serif' font-size="8.9" text-anchor="end" font-weight="normal" fill="#000" transform="rotate(-90 75.45 364.00)" stroke="#000" stroke-width="0.14">α-la</text>
<line x1="83.40" y1="359.00" x2="83.40" y2="362.60" stroke="#3a3a3a" stroke-width="1.0"/>
<text x="86.30" y="364.00" font-family='"Liberation Serif", serif' font-size="8.9" text-anchor="end" font-weight="normal" fill="#000" transform="rotate(-90 86.30 364.00)" stroke="#000" stroke-width="0.14">α-la/G</text>
<line x1="94.25" y1="359.00" x2="94.25" y2="362.60" stroke="#3a3a3a" stroke-width="1.0"/>
<text x="97.15" y="364.00" font-family='"Liberation Serif", serif' font-size="8.9" text-anchor="end" font-weight="normal" fill="#000" transform="rotate(-90 97.15 364.00)" stroke="#000" stroke-width="0.14">α-la/L</text>
<line x1="105.10" y1="359.00" x2="105.10" y2="362.60" stroke="#3a3a3a" stroke-width="1.0"/>
<text x="108.00" y="364.00" font-family='"Liberation Serif", serif' font-size="8.9" text-anchor="end" font-weight="normal" fill="#000" transform="rotate(-90 108.00 364.00)" stroke="#000" stroke-width="0.14">β-lg</text>
<line x1="115.95" y1="359.00" x2="115.95" y2="362.60" stroke="#3a3a3a" stroke-width="1.0"/>
<text x="118.85" y="364.00" font-family='"Liberation Serif", serif' font-size="8.9" text-anchor="end" font-weight="normal" fill="#000" transform="rotate(-90 118.85 364.00)" stroke="#000" stroke-width="0.14">β-lg/G</text>
<line x1="126.80" y1="359.00" x2="126.80" y2="362.60" stroke="#3a3a3a" stroke-width="1.0"/>
<text x="129.70" y="364.00" font-family='"Liberation Serif", serif' font-size="8.9" text-anchor="end" font-weight="normal" fill="#000" transform="rotate(-90 129.70 364.00)" stroke="#000" stroke-width="0.14">β-lg/L</text>
<line x1="144.70" y1="359.00" x2="144.70" y2="362.60" stroke="#3a3a3a" stroke-width="1.0"/>
<text x="147.60" y="364.00" font-family='"Liberation Serif", serif' font-size="8.9" text-anchor="end" font-weight="normal" fill="#000" transform="rotate(-90 147.60 364.00)" stroke="#000" stroke-width="0.14">C</text>
<line x1="155.55" y1="359.00" x2="155.55" y2="362.60" stroke="#3a3a3a" stroke-width="1.0"/>
<text x="158.45" y="364.00" font-family='"Liberation Serif", serif' font-size="8.9" text-anchor="end" font-weight="normal" fill="#000" transform="rotate(-90 158.45 364.00)" stroke="#000" stroke-width="0.14">ConA</text>
<line x1="166.40" y1="359.00" x2="166.40" y2="362.60" stroke="#3a3a3a" stroke-width="1.0"/>
<line x1="177.25" y1="359.00" x2="177.25" y2="362.60" stroke="#3a3a3a" stroke-width="1.0"/>
<text x="180.15" y="364.00" font-family='"Liberation Serif", serif' font-size="8.9" text-anchor="end" font-weight="normal" fill="#000" transform="rotate(-90 180.15 364.00)" stroke="#000" stroke-width="0.14">α-la</text>
<line x1="188.10" y1="359.00" x2="188.10" y2="362.60" stroke="#3a3a3a" stroke-width="1.0"/>
<text x="191.00" y="364.00" font-family='"Liberation Serif", serif' font-size="8.9" text-anchor="end" font-weight="normal" fill="#000" transform="rotate(-90 191.00 364.00)" stroke="#000" stroke-width="0.14">α-la/G</text>
<line x1="198.95" y1="359.00" x2="198.95" y2="362.60" stroke="#3a3a3a" stroke-width="1.0"/>
<text x="201.85" y="364.00" font-family='"Liberation Serif", serif' font-size="8.9" text-anchor="end" font-weight="normal" fill="#000" transform="rotate(-90 201.85 364.00)" stroke="#000" stroke-width="0.14">α-la/L</text>
<line x1="209.80" y1="359.00" x2="209.80" y2="362.60" stroke="#3a3a3a" stroke-width="1.0"/>
<text x="212.70" y="364.00" font-family='"Liberation Serif", serif' font-size="8.9" text-anchor="end" font-weight="normal" fill="#000" transform="rotate(-90 212.70 364.00)" stroke="#000" stroke-width="0.14">β-lg</text>
<line x1="220.65" y1="359.00" x2="220.65" y2="362.60" stroke="#3a3a3a" stroke-width="1.0"/>
<text x="223.55" y="364.00" font-family='"Liberation Serif", serif' font-size="8.9" text-anchor="end" font-weight="normal" fill="#000" transform="rotate(-90 223.55 364.00)" stroke="#000" stroke-width="0.14">β-lg/G</text>
<line x1="231.50" y1="359.00" x2="231.50" y2="362.60" stroke="#3a3a3a" stroke-width="1.0"/>
<text x="234.40" y="364.00" font-family='"Liberation Serif", serif' font-size="8.9" text-anchor="end" font-weight="normal" fill="#000" transform="rotate(-90 234.40 364.00)" stroke="#000" stroke-width="0.14">β-lg/L</text>
<rect x="62.2" y="212.9" width="10.2" height="4.4" fill="#000" stroke="#000" stroke-width="0.6"/>
<text x="78.60" y="218.00" font-family='"Liberation Serif", serif' font-size="9.0" text-anchor="start" font-weight="normal" fill="#000" stroke="#000" stroke-width="0.15">i-g/β-lg</text>
<rect x="156.7" y="212.9" width="11.7" height="4.4" fill="#a09fa3" stroke="#77767a" stroke-width="0.9"/>
<text x="174.50" y="218.00" font-family='"Liberation Serif", serif' font-size="9.0" text-anchor="start" font-weight="normal" fill="#000" stroke="#000" stroke-width="0.15">i-p/β-lg</text>
<text x="5.60" y="221.90" font-family='"Liberation Serif", serif' font-size="14" text-anchor="start" font-weight="bold" fill="#000">C</text>
<text x="14.00" y="286.50" font-family='"Liberation Serif", serif' font-size="8.7" text-anchor="middle" font-weight="normal" fill="#000" transform="rotate(-90 14.00 286.50)">CD8<tspan baseline-shift="4.3" font-size="5.5">+</tspan> among lymphocytes [%]</text>
</svg>
</body></html>
